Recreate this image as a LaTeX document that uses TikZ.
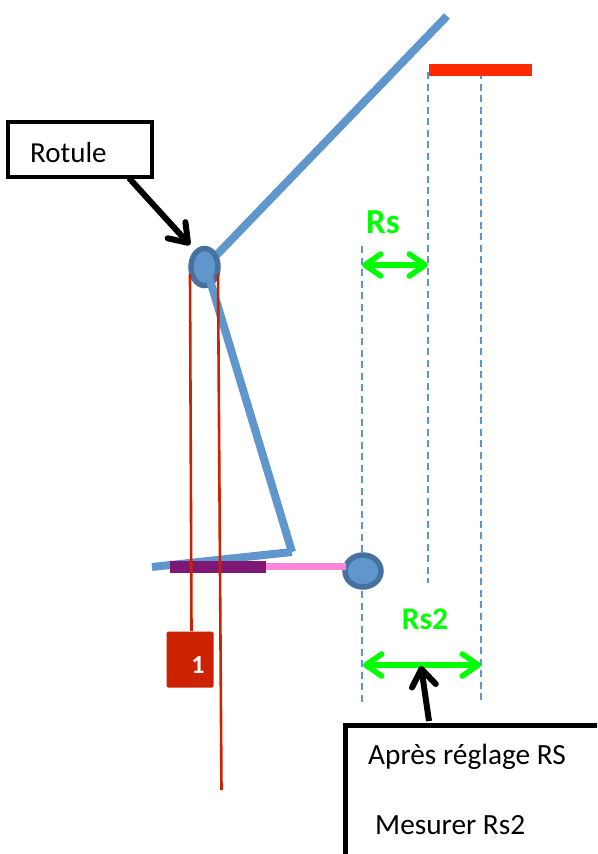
\documentclass[tikz,border=0pt]{standalone}
\usepackage{fontspec}
\setmainfont{Carlito}
\usetikzlibrary{arrows.meta,shapes.geometric}
\definecolor{barblue}{HTML}{5F96CB}
\definecolor{jointedge}{HTML}{47729F}
\definecolor{jointfill}{HTML}{5F96CB}
\definecolor{plumb}{HTML}{CC2200}
\definecolor{violetbar}{HTML}{7F1875}
\definecolor{pinkbar}{HTML}{FF85DC}
\definecolor{greenmark}{HTML}{00FF00}
\definecolor{redbarc}{HTML}{FF2A00}
\tikzset{
  bar/.style={draw=barblue,line width=8pt},
  joint/.style={ellipse,draw=jointedge,fill=jointfill,line width=5.5pt,inner sep=0pt},
  guide/.style={draw=barblue,line width=1.5pt,dash pattern=on 7pt off 4.5pt},
  plumbline/.style={draw=plumb,line width=2.6pt},
  gauge/.style={draw=greenmark,line width=5.5pt,{Straight Barb[length=16pt,width=22pt,round]}-{Straight Barb[length=16pt,width=22pt,round]}},
  gaugetext/.style={text=greenmark,font=\fontsize{35}{37}\selectfont\bfseries,inner sep=0pt},
  callout/.style={draw=black,line width=3.5pt,fill=white,inner sep=0pt},
  pointer/.style={draw=black,line width=6pt,-{Straight Barb[length=17pt,width=24pt,round]}},
  labeltext/.style={font=\fontsize{29.3}{31}\selectfont,inner sep=0pt,anchor=west}
}
\begin{document}
\begin{tikzpicture}[x=1pt,y=-1pt]
\useasboundingbox (0,0) rectangle (597,854);
\clip (0,0) rectangle (597,854);
% guides
\coordinate (gA1) at (362,246); \coordinate (gA2) at (362,703);
\coordinate (gB1) at (428,72);  \coordinate (gB2) at (428,583);
\coordinate (gC1) at (481,72);  \coordinate (gC2) at (481,703);
\draw[guide] (gA1) -- (gA2);
\draw[guide] (gB1) -- (gB2);
\draw[guide] (gC1) -- (gC2);
% red bar
\node[fill=redbarc,minimum width=103pt,minimum height=12pt,inner sep=0pt] (redbar) at (480,70) {};
% plumb weight
\node[fill=plumb,rounded corners=1.5pt,minimum width=47pt,minimum height=56pt,inner sep=0pt] (weight) at (190,659.5) {};
\node[text=white,font=\fontsize{26}{28}\selectfont\bfseries,inner sep=0pt] (one) at (198,665) {1};
% arm
\coordinate (tip) at (152,567); \coordinate (heel) at (292,552);
\coordinate (top) at (447,16); \coordinate (ball) at (205,267);
\node[joint,minimum width=36pt,minimum height=32pt] (jointB) at (363,571) {};
\coordinate (pinkS) at (265,566.5); \coordinate (pinkE) at (346,566.5);
\draw[draw=pinkbar,line width=6.5pt] (pinkS) -- (pinkE);
\draw[bar] (top) -- (ball);
\draw[bar] (heel) -- (tip);
\node[fill=violetbar,minimum width=96pt,minimum height=12pt,inner sep=0pt] (violet) at (217.5,566.5) {};
\node[joint,minimum width=27pt,minimum height=37pt] (jointA) at (204.5,267) {};
\coordinate (lnk) at (209,277);
\draw[bar] (lnk) -- (heel);
\coordinate (pA) at (190,274); \coordinate (pB) at (218,274);
\coordinate (pAend) at (191.5,631); \coordinate (pBend) at (221.5,790);
\draw[plumbline] (pA) -- (pAend);
\draw[plumbline] (pB) -- (pBend);
% gauges
\coordinate (rsL) at (362,265); \coordinate (rsR) at (428,265);
\coordinate (rs2L) at (363,665); \coordinate (rs2R) at (481,665);
\draw[gauge] (rsL) -- (rsR);
\draw[gauge] (rs2L) -- (rs2R);
\node[gaugetext] (rs) at (383,222) {Rs};
\node[gaugetext,font=\fontsize{31.5}{33}\selectfont\bfseries] (rs2) at (425,619) {Rs2};
% callouts
\node[callout,minimum width=144pt,minimum height=55pt] (rotule) at (80,149.5) {};
\node[labeltext,font=\fontsize{29}{31}\selectfont] (rotuleT) at (30,153) {Rotule};
\node[callout,line width=5pt,minimum width=300pt,minimum height=200pt] (apres) at (495,825) {};
\node[labeltext] (apresT) at (368,757) {Après réglage RS};
\node[labeltext] (mesT) at (375,825) {Mesurer Rs2};
\coordinate (rotS) at (129,178); \coordinate (rotE) at (190,245);
\draw[pointer] (rotS) -- (rotE);
\coordinate (apTop) at (429,721); \coordinate (apEnd) at (421,666);
\draw[pointer] (apTop) -- (apEnd);
\end{tikzpicture}
\end{document}
